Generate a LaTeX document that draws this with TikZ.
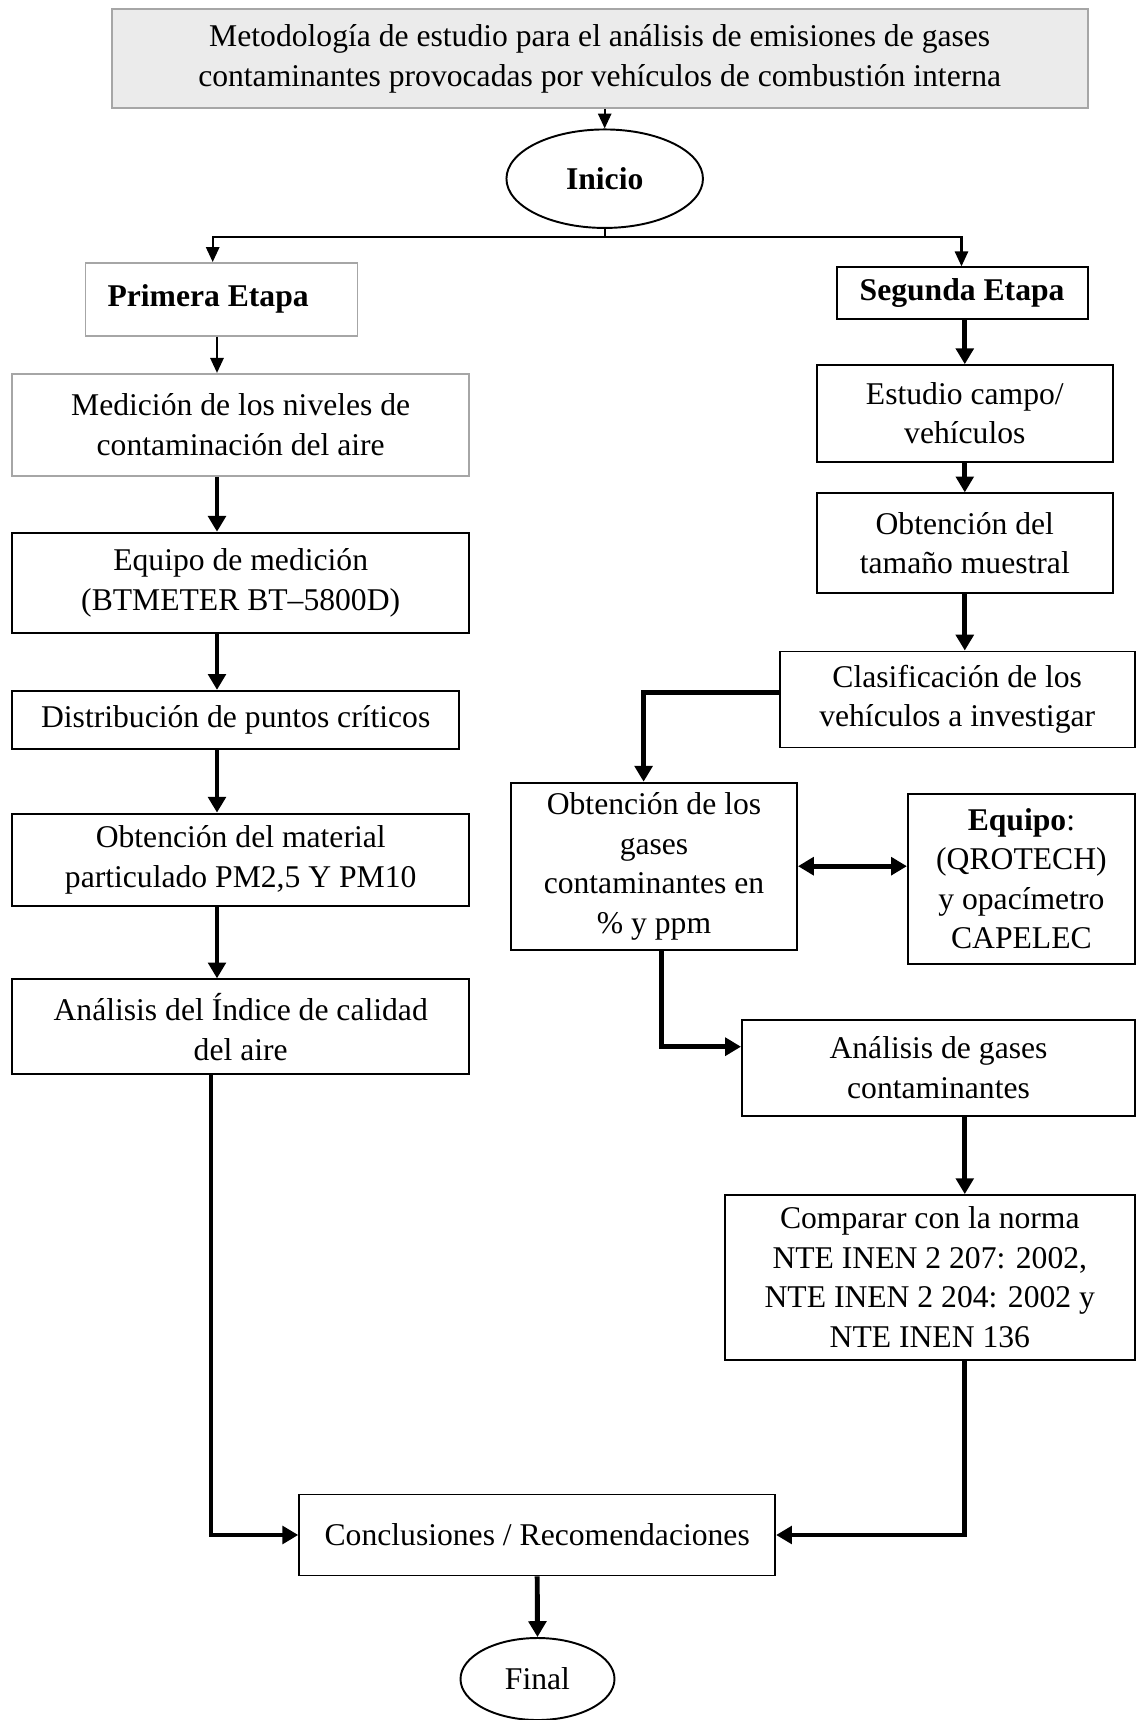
\documentclass[tikz,border=0pt]{standalone}
\usepackage{fontspec}
\setmainfont{Liberation Serif}
\usetikzlibrary{shapes.geometric,arrows.meta}

\begin{document}
\begin{tikzpicture}[scale=0.2]
	\tikzstyle{every node}+=[inner sep=0pt, align=center, font=\fontsize{18}{22.5}\selectfont]
	\tikzstyle{caja}=[draw=black, line width=1.1pt, rectangle]
	\tikzstyle{cajagris}=[draw=black!35, line width=1.1pt, rectangle]
	\tikzstyle{ovalo}=[draw=black, line width=1.1pt, ellipse]
	\tikzstyle{flecha}=[line width=1.3pt, -{Triangle[width=7.5pt,length=8.5pt]}]
	\tikzstyle{flechagruesa}=[line width=2.8pt, -{Triangle[width=10pt,length=9pt]}]
	\useasboundingbox (0,0) rectangle (113.7,-172);
	\node [cajagris, fill=black!8, minimum width=19.52cm, minimum height=1.99cm] (titulo) at (59.97,-5.87) {Metodología de estudio para el análisis de emisiones de gases\\contaminantes provocadas por vehículos de combustión interna};
	\node [ovalo, minimum width=3.93cm, minimum height=1.97cm] (inicio) at (60.47,-17.87) {\textbf{Inicio}};
	\node [cajagris, minimum height=1.45cm, text width=4.56cm, inner xsep=0.44cm, align=flush left] (primera) at (22.15,-29.93) {\textbf{Primera Etapa}};
	\node [cajagris, minimum width=9.14cm, minimum height=2.04cm] (medicion) at (24.07,-42.49) {Medición de los niveles de\\contaminación del aire};
	\node [caja, minimum width=9.14cm, minimum height=2cm] (equipo) at (24.07,-58.27) {Equipo de medición\\(BTMETER BT--5800D)};
	\node [caja, minimum width=8.94cm, minimum height=1.16cm] (distribucion) at (23.57,-71.98) {Distribución de puntos críticos};
	\node [caja, minimum width=9.14cm, minimum height=1.84cm] (material) at (24.07,-85.96) {Obtención del material\\particulado PM2,5 Y PM10};
	\node [caja, minimum width=9.14cm, minimum height=1.9cm] (analisis) at (24.07,-102.68) {Análisis del Índice de calidad\\del aire};
	\node [caja, minimum width=5.02cm, minimum height=1.04cm] (segunda) at (96.21,-29.33) {\textbf{Segunda Etapa}};
	\node [caja, minimum width=5.92cm, minimum height=1.93cm] (estudio) at (96.48,-41.34) {Estudio campo/\\vehículos};
	\node [caja, minimum width=5.92cm, minimum height=2cm] (tamano) at (96.48,-54.33) {Obtención del\\tamaño muestral};
	\node [caja, minimum width=7.1cm, minimum height=1.92cm] (clasificacion) at (95.72,-69.95) {Clasificación de los\\vehículos a investigar};
	\node [caja, minimum width=5.72cm, minimum height=3.34cm] (gases) at (65.4,-86.62) {Obtención de los\\gases\\contaminantes en\\\% y ppm};
	\node [caja, minimum width=4.54cm, minimum height=3.4cm] (equipogas) at (102.14,-87.88) {\textbf{Equipo}:\\(QROTECH)\\y opacímetro\\CAPELEC};
	\node [caja, minimum width=7.86cm, minimum height=1.93cm] (analisisgas) at (93.85,-106.79) {Análisis de gases\\contaminantes};
	\node [caja, minimum width=8.2cm, minimum height=3.29cm] (comparar) at (92.98,-127.73) {Comparar con la norma\\NTE INEN 2 207: 2002,\\NTE INEN 2 204: 2002 y\\NTE INEN 136};
	\node [caja, minimum width=9.52cm, minimum height=1.62cm] (conclusiones) at (53.72,-153.5) {Conclusiones / Recomendaciones};
	\node [ovalo, minimum width=3.08cm, minimum height=1.64cm] (final) at (53.75,-167.9) {Final};
	\coordinate (rama) at (60.47,-23.68);
	\coordinate (izq) at (21.27,0);
	\coordinate (der) at (96.15,0);
	\coordinate (colI) at (21.7,0);
	\coordinate (colD) at (96.48,0);
	\coordinate (bajada) at (21.1,0);
	\coordinate (codo) at (64.36,-69.29);
	\coordinate (codo2) at (66.17,-104.67);
	\draw [flecha] (titulo.south -| inicio.north) -- (inicio.north);
	\draw [line width=1.3pt] (inicio.south) -- (rama);
	\draw [flecha] (rama) -| (primera.north -| izq);
	\draw [flecha] (rama) -| (segunda.north -| der);
	\draw [flecha] (primera.south -| colI) -- (medicion.north -| colI);
	\draw [flechagruesa] (medicion.south -| colI) -- (equipo.north -| colI);
	\draw [flechagruesa] (equipo.south -| colI) -- (distribucion.north -| colI);
	\draw [flechagruesa] (distribucion.south -| colI) -- (material.north -| colI);
	\draw [flechagruesa] (material.south -| colI) -- (analisis.north -| colI);
	\draw [flechagruesa] (analisis.south -| bajada) |- (conclusiones.west);
	\draw [flechagruesa] (segunda.south -| colD) -- (estudio.north -| colD);
	\draw [flechagruesa] (estudio.south -| colD) -- (tamano.north -| colD);
	\draw [flechagruesa] (tamano.south -| colD) -- (clasificacion.north -| colD);
	\draw [flechagruesa] (clasificacion.west |- codo) -- (codo) -- (gases.north -| codo);
	\draw [flechagruesa, {Triangle[width=10pt,length=9pt]}-{Triangle[width=10pt,length=9pt]}] (gases.east) -- (equipogas.west |- gases.east);
	\draw [flechagruesa] (gases.south -| codo2) -- (codo2) -- (analisisgas.west |- codo2);
	\draw [flechagruesa] (analisisgas.south -| colD) -- (comparar.north -| colD);
	\draw [flechagruesa] (comparar.south -| colD) |- (conclusiones.east);
	\draw [flechagruesa] (conclusiones.south) -- (final.north);
\end{tikzpicture}
\end{document}
